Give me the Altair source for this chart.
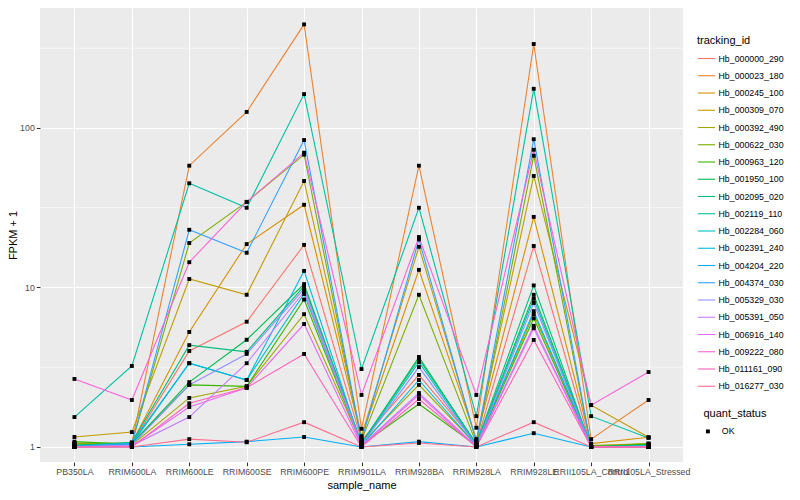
import altair as alt
import pandas as pd

samples = ["PB350LA", "RRIM600LA", "RRIM600LE", "RRIM600SE", "RRIM600PE", "RRIM901LA",
           "RRIM928BA", "RRIM928LA", "RRIM928LE", "RRII105LA_Control", "RRII105LA_Stressed"]

tracking_ids = ["Hb_000000_290", "Hb_000023_180", "Hb_000245_100", "Hb_000309_070",
                "Hb_000392_490", "Hb_000622_030", "Hb_000963_120", "Hb_001950_100",
                "Hb_002095_020", "Hb_002119_110", "Hb_002284_060", "Hb_002391_240",
                "Hb_004204_220", "Hb_004374_030", "Hb_005329_030", "Hb_005391_050",
                "Hb_006916_140", "Hb_009222_080", "Hb_011161_090", "Hb_016277_030"]

palette = ["#F8766D", "#EA8331", "#D89000", "#C09B00", "#A3A500", "#7CAE00", "#39B600",
           "#00BB4E", "#00BF7D", "#00C1A3", "#00BFC4", "#00BAE0", "#00B0F6", "#35A2FF",
           "#9590FF", "#C77CFF", "#E76BF3", "#FA62DB", "#FF62BC", "#FF6C91"]

# FPKM + 1 per sample, one list per tracking_id
hb_000000_290 = [1.00, 1.05, 4.0, 6.1, 18.5, 1.10, 2.83, 1.05, 18.2, 1.00, 1.00]
hb_000023_180 = [1.02, 1.06, 58, 126, 446, 1.30, 58, 1.32, 336, 1.12, 1.97]
hb_000245_100 = [1.05, 1.06, 5.26, 18.7, 33, 1.15, 12.9, 1.12, 27.7, 1.05, 1.15]
hb_000309_070 = [1.155, 1.24, 11.3, 9.0, 46.5, 1.17, 18, 1.10, 50, 1.83, 1.15]
hb_000392_490 = [1.05, 1.03, 2.03, 2.4, 6.8, 1.05, 2.45, 1.03, 6.8, 1.02, 1.05]
hb_000622_030 = [1.06, 1.05, 19, 34.4, 68, 1.10, 9.0, 1.05, 67, 1.00, 1.05]
hb_000963_120 = [1.08, 1.04, 2.45, 2.4, 8.4, 1.03, 1.86, 1.02, 6.4, 1.00, 1.04]
hb_001950_100 = [1.03, 1.05, 2.55, 4.7, 10.5, 1.05, 3.67, 1.04, 9.0, 1.01, 1.03]
hb_002095_020 = [1.02, 1.07, 4.35, 3.95, 10.2, 1.06, 3.55, 1.05, 10.3, 1.00, 1.02]
hb_002119_110 = [1.54, 3.22, 45, 31.6, 163, 3.08, 31.6, 1.56, 176, 1.56, 1.14]
hb_002284_060 = [1.01, 1.06, 3.35, 2.63, 9.1, 1.04, 3.4, 1.03, 8.5, 1.00, 1.02]
hb_002391_240 = [1.00, 1.04, 3.35, 2.63, 12.7, 1.02, 2.63, 1.02, 7.1, 1.00, 1.01]
hb_004204_220 = [1.00, 1.00, 1.04, 1.08, 1.155, 1.00, 1.08, 1.00, 1.22, 1.00, 1.00]
hb_004374_030 = [1.01, 1.05, 23, 16.5, 84, 1.10, 20, 1.08, 85, 1.00, 1.00]
hb_005329_030 = [1.00, 1.03, 2.45, 3.83, 9.8, 1.03, 3.17, 1.02, 8.0, 1.00, 1.01]
hb_005391_050 = [1.00, 1.02, 1.54, 3.35, 9.4, 1.02, 2.18, 1.01, 5.75, 1.00, 1.00]
hb_006916_140 = [1.00, 1.01, 1.78, 2.35, 5.9, 1.01, 2.12, 1.00, 5.55, 1.00, 1.00]
hb_009222_080 = [2.67, 1.97, 14.4, 34.4, 70, 2.12, 20.7, 2.12, 73, 1.83, 2.95]
hb_011161_090 = [1.00, 1.00, 1.88, 2.35, 3.83, 1.00, 2.0, 1.00, 4.69, 1.00, 1.00]
hb_016277_030 = [1.00, 1.00, 1.12, 1.07, 1.43, 1.00, 1.06, 1.00, 1.43, 1.00, 1.00]

series = [hb_000000_290, hb_000023_180, hb_000245_100, hb_000309_070, hb_000392_490,
          hb_000622_030, hb_000963_120, hb_001950_100, hb_002095_020, hb_002119_110,
          hb_002284_060, hb_002391_240, hb_004204_220, hb_004374_030, hb_005329_030,
          hb_005391_050, hb_006916_140, hb_009222_080, hb_011161_090, hb_016277_030]

minor_breaks = [3.1623, 31.623, 316.23]

rows = []
for tid, vals in zip(tracking_ids, series):
    for s, v in zip(samples, vals):
        rows.append({"tracking_id": tid, "sample_name": s, "fpkm": v, "quant_status": "OK"})
df = pd.DataFrame(rows)

FONT = "Liberation Sans"

yscale = alt.Scale(type="log", domain=[0.805, 565], nice=False)
xenc = alt.X("sample_name:N", sort=samples,
             scale=alt.Scale(type="point", padding=0.6),
             axis=alt.Axis(title="sample_name", labelAngle=0, labelOverlap=False,
                           labelBound=False, titlePadding=3))
yenc = alt.Y("fpkm:Q", scale=yscale,
             axis=alt.Axis(title="FPKM + 1", values=[1, 10, 100], format="d",
                           titlePadding=1))

minor = alt.Chart(pd.DataFrame({"v": minor_breaks})).mark_rule(
    color="white", strokeWidth=0.55
).encode(y=alt.Y("v:Q", scale=yscale))

lines = alt.Chart(df).mark_line(strokeWidth=1.1).encode(
    x=xenc, y=yenc,
    color=alt.Color("tracking_id:N",
                    scale=alt.Scale(domain=tracking_ids, range=palette),
                    legend=alt.Legend(title="tracking_id", orient="none",
                                      legendX=657, legendY=27, direction="vertical",
                                      symbolType="stroke", symbolSize=298,
                                      symbolStrokeWidth=1.1, symbolLimit=30,
                                      rowPadding=2.25, padding=0, titlePadding=3,
                                      labelOffset=2.5)),
    detail="tracking_id:N",
)

points = alt.Chart(df).mark_point(filled=True, size=15, opacity=1).encode(
    x=xenc, y=yenc,
    color=alt.value("black"),
    shape=alt.Shape("quant_status:N",
                    scale=alt.Scale(domain=["OK"], range=["square"]),
                    legend=alt.Legend(title="quant_status", orient="none",
                                      legendX=663.5, legendY=400, symbolSize=15,
                                      symbolFillColor="black", symbolStrokeColor="black",
                                      padding=0, titlePadding=8, labelOffset=9.5)),
)

chart = alt.layer(minor, lines, points).properties(
    width=643, height=454,
    autosize=alt.AutoSizeParams(type="none"),
    padding={"left": 32, "top": 0, "right": 109, "bottom": 30},
).configure_view(
    fill="#EBEBEB", stroke=None
).configure_axis(
    grid=True, gridColor="white", gridWidth=1.1,
    domain=False, tickColor="#333333", tickSize=3.7, tickWidth=1.07,
    labelColor="#4D4D4D", labelFontSize=8.8, labelFont=FONT, labelPadding=2,
    titleFont=FONT, titleFontSize=11, titleFontWeight="normal", titleColor="black",
).configure_legend(
    titleFont=FONT, titleFontSize=11, titleFontWeight="normal", titleColor="black",
    labelFont=FONT, labelFontSize=8.8, labelColor="black",
)

chart.save("out.html", embed_options={"renderer": "svg", "actions": False})
